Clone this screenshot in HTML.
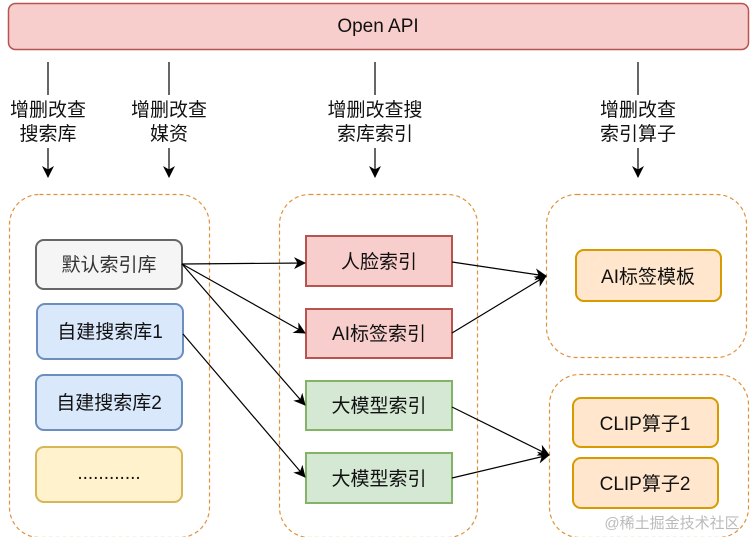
<!DOCTYPE html>
<html><head><meta charset="utf-8"><style>
body{margin:0;background:#fff;}
svg text{font-family:"Liberation Sans","Noto Sans CJK SC",sans-serif;}
</style></head><body>
<svg width="750" height="537" viewBox="0 0 750 537" xmlns="http://www.w3.org/2000/svg">
<defs><marker id="a" markerWidth="12" markerHeight="12" refX="11" refY="6" orient="auto" markerUnits="userSpaceOnUse"><path d="M0,0 L12,6 L0,12 L3.5,6 Z" fill="#000"/></marker></defs>
<rect x="8.5" y="3.5" width="740" height="46" rx="7" fill="#f8cecc" stroke="#b85450" stroke-width="1.5"/>
<text x="378" y="32" font-size="19" text-anchor="middle" fill="#111">Open API</text>
<g stroke="#000" stroke-width="1.2" fill="none">
<line x1="48" y1="62" x2="48" y2="95"/><line x1="48" y1="148" x2="48" y2="177" marker-end="url(#a)"/>
<line x1="169" y1="62" x2="169" y2="95"/><line x1="169" y1="148" x2="169" y2="177" marker-end="url(#a)"/>
<line x1="375" y1="62" x2="375" y2="95"/><line x1="375" y1="148" x2="375" y2="177" marker-end="url(#a)"/>
<line x1="638" y1="62" x2="638" y2="95"/><line x1="638" y1="148" x2="638" y2="177" marker-end="url(#a)"/>
</g>
<g font-size="19" text-anchor="middle" fill="#111">
<text x="48" y="116">增删改查</text><text x="48" y="140">搜索库</text>
<text x="169" y="116">增删改查</text><text x="169" y="140">媒资</text>
<text x="375" y="116">增删改查搜</text><text x="375" y="140">索库索引</text>
<text x="638" y="116">增删改查</text><text x="638" y="140">索引算子</text>
</g>
<g fill="none" stroke="#e0923a" stroke-width="1.2" stroke-dasharray="4,3">
<rect x="9.5" y="194.5" width="200" height="343" rx="30"/>
<rect x="279.5" y="194.5" width="198" height="343" rx="30"/>
<rect x="546.5" y="194.5" width="200" height="163" rx="30"/>
<rect x="549.5" y="374.5" width="199" height="163" rx="30"/>
</g>
<g stroke-width="2">
<rect x="36" y="240" width="146" height="49" rx="8" fill="#f5f5f5" stroke="#666"/>
<rect x="37" y="304" width="146" height="55" rx="8" fill="#dae8fc" stroke="#6c8ebf"/>
<rect x="36" y="375" width="146" height="55" rx="8" fill="#dae8fc" stroke="#6c8ebf"/>
<rect x="36" y="447" width="146" height="55" rx="8" fill="#fff2cc" stroke="#d6b656"/>
<rect x="306" y="236" width="146" height="50" fill="#f8cecc" stroke="#b85450"/>
<rect x="306" y="309" width="146" height="49" fill="#f8cecc" stroke="#b85450"/>
<rect x="306" y="381" width="146" height="49" fill="#d5e8d4" stroke="#82b366"/>
<rect x="306" y="453" width="146" height="50" fill="#d5e8d4" stroke="#82b366"/>
<rect x="576" y="250" width="145" height="51" rx="8" fill="#ffe6cc" stroke="#d79b00"/>
<rect x="573" y="398" width="145" height="49" rx="8" fill="#ffe6cc" stroke="#d79b00"/>
<rect x="573" y="458" width="145" height="50" rx="8" fill="#ffe6cc" stroke="#d79b00"/>
</g>
<g font-size="19" text-anchor="middle" fill="#111">
<text x="109" y="271" fill="#333">默认索引库</text>
<text x="110" y="338">自建搜索库1</text>
<text x="109" y="409">自建搜索库2</text>
<text x="109" y="479">............</text>
<text x="379" y="268">人脸索引</text>
<text x="379" y="340">AI标签索引</text>
<text x="379" y="412">大模型索引</text>
<text x="379" y="485">大模型索引</text>
<text x="648" y="283">AI标签模板</text>
<text x="645" y="430">CLIP算子1</text>
<text x="645" y="490">CLIP算子2</text>
</g>
<g stroke="#000" stroke-width="1.2" fill="none" marker-end="url(#a)">
<line x1="182" y1="264" x2="305" y2="263"/>
<line x1="182" y1="264" x2="305" y2="333"/>
<line x1="182" y1="264" x2="305" y2="405"/>
<line x1="183" y1="334" x2="305" y2="477"/>
<line x1="452" y1="262" x2="546" y2="276"/>
<line x1="452" y1="333" x2="546" y2="276"/>
<line x1="452" y1="407" x2="549" y2="455"/>
<line x1="452" y1="478" x2="549" y2="455"/>
</g>
<text x="672" y="528" font-size="15" text-anchor="middle" fill="#bbb">@稀土掘金技术社区</text>
</svg>
</body></html>
